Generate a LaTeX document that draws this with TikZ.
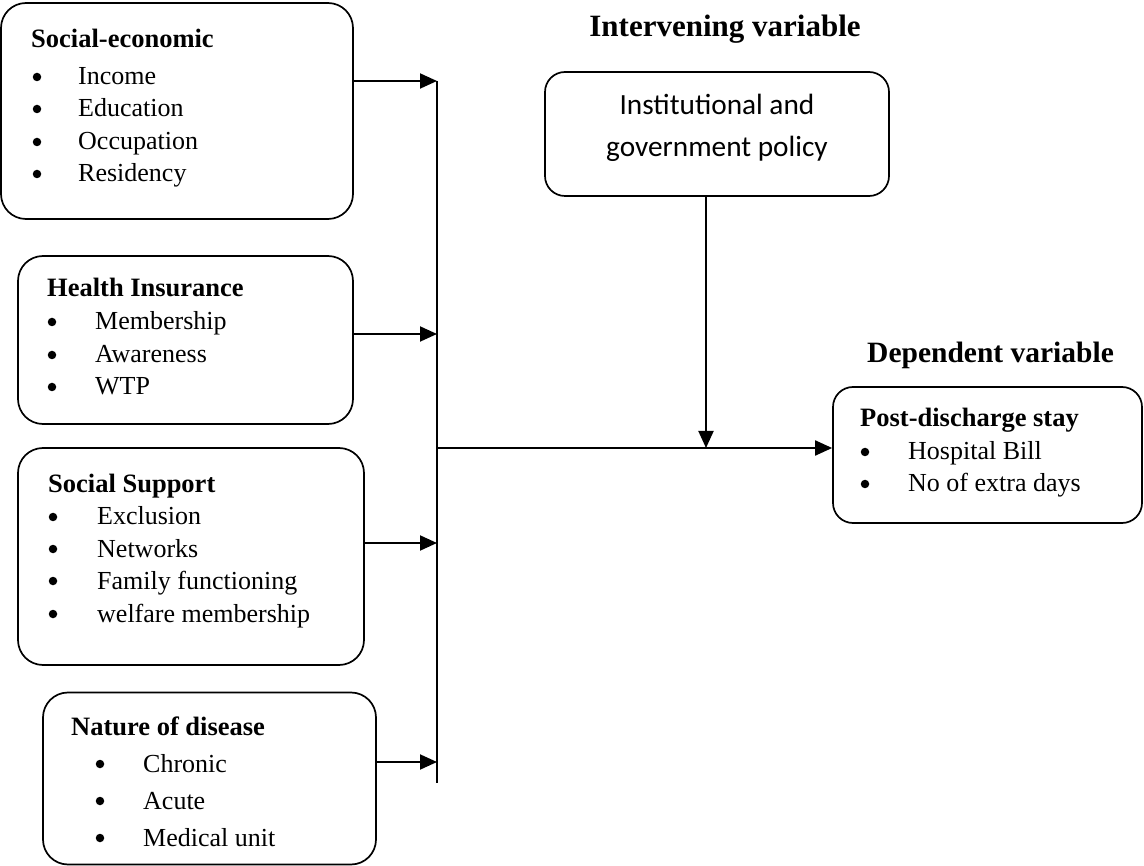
\documentclass[tikz,border=0pt]{standalone}
\usepackage{fontspec}
\setmainfont{Liberation Serif}
\newfontfamily\calfont{Carlito}
\usetikzlibrary{arrows.meta}
\begin{document}
\begin{tikzpicture}[x=1pt,y=-1pt,
  box/.style={draw,line width=1.7pt,rounded corners=25pt,inner sep=0pt},
  ttl/.style={anchor=base west,inner sep=0pt,font=\fontsize{26.5}{30}\selectfont\bfseries},
  itm/.style={anchor=base west,inner sep=0pt,font=\fontsize{26}{30}\selectfont},
  dot/.style={circle,fill,inner sep=0pt,minimum size=8.5pt},
  hdr/.style={inner sep=0pt,font=\fontsize{31}{36}\selectfont\bfseries},
  arr/.style={line width=1.9pt,-{Triangle[length=17pt,width=15pt]}},
  ln/.style={line width=1.9pt}]
\useasboundingbox (0,0) rectangle (1144,866);

% boxes
\node[box,minimum width=352pt,minimum height=216pt] (se) at (177,111) {};
\node[box,minimum width=335pt,minimum height=168pt] (hi) at (185.5,340) {};
\node[box,minimum width=346pt,minimum height=217pt] (ss) at (191,556.5) {};
\node[box,minimum width=333pt,minimum height=172pt] (nd) at (209.5,778.5) {};
\node[box,minimum width=344pt,minimum height=124pt,rounded corners=20pt] (inst) at (717,134) {};
\node[box,minimum width=309pt,minimum height=136pt,rounded corners=20pt] (post) at (987.5,455) {};

% headers
\node[hdr,anchor=base] (hint) at (725,37) {Intervening variable};
\node[hdr,anchor=base west,font=\fontsize{29.5}{34}\selectfont\bfseries] (hdep) at (867,363) {Dependent variable};

% social-economic
\node[ttl] (set) at (31,48) {Social-economic};
\foreach \t/\y [count=\i] in {Income/85,Education/117,Occupation/150,Residency/182}{
  \node[dot] (seb\i) at (37,\y-8) {};
  \node[itm] (sei\i) at (78,\y) {\t};
}
% health insurance
\node[ttl] (hit) at (47,297) {Health Insurance};
\foreach \t/\y [count=\i] in {Membership/330,Awareness/363,WTP/395}{
  \node[dot] (hib\i) at (52,\y-8) {};
  \node[itm] (hii\i) at (95,\y) {\t};
}
% social support
\node[ttl] (sst) at (48,493) {Social Support};
\foreach \t/\y [count=\i] in {Exclusion/525,Networks/557,Family functioning/589,welfare membership/622}{
  \node[dot] (ssb\i) at (53,\y-8) {};
  \node[itm] (ssi\i) at (97,\y) {\t};
}
% nature of disease
\node[ttl] (ndt) at (71,735) {Nature of disease};
\foreach \t/\y [count=\i] in {Chronic/772,Acute/809,Medical unit/846}{
  \node[dot] (ndb\i) at (100,\y-8) {};
  \node[itm] (ndi\i) at (143,\y) {\t};
}
% post-discharge
\node[ttl] (pt) at (860,427) {Post-discharge stay};
\foreach \t/\y [count=\i] in {Hospital Bill/460,No of extra days/492}{
  \node[dot] (pb\i) at (865,\y-8) {};
  \node[itm] (pi\i) at (908,\y) {\t};
}
% institutional
\node[inner sep=0pt,anchor=base,font=\calfont\fontsize{29.3}{34}\selectfont] (it1) at (717,115) {Institutional and};
\node[inner sep=0pt,anchor=base,font=\calfont\fontsize{29.3}{34}\selectfont] (it2) at (717,157) {government policy};

% connectors
\coordinate (j1) at (437,81);
\coordinate (j2) at (437,334);
\coordinate (j3) at (437,543);
\coordinate (j4) at (437,762);
\coordinate (jb) at (437,783);
\coordinate (b) at (437,448);
\coordinate (m) at (706,448);

\draw[ln] (j1) -- (jb);
\draw[arr] (se.east |- j1) -- (j1);
\draw[arr] (hi.east |- j2) -- (j2);
\draw[arr] (ss.east |- j3) -- (j3);
\draw[arr] (nd.east |- j4) -- (j4);
\draw[arr] (b) -- (post.west |- b);
\draw[arr] (inst.south -| m) -- (m);
\end{tikzpicture}
\end{document}
